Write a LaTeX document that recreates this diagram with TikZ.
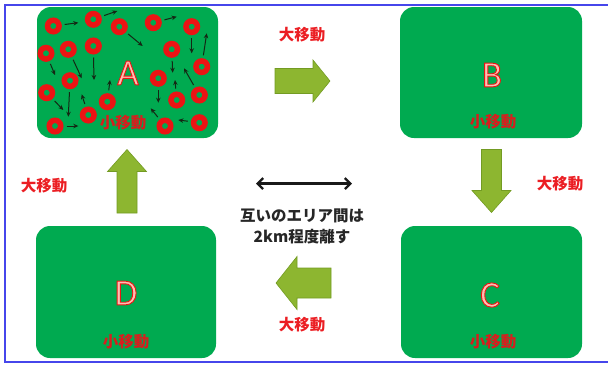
\documentclass[tikz,border=0pt]{standalone}
\usepackage{fontspec}
\usetikzlibrary{arrows.meta}
\newfontfamily\jp{Noto Sans CJK JP}
\newfontfamily\letterfont{Carlito}
\definecolor{boxgreen}{RGB}{0,170,80}
\definecolor{ringred}{RGB}{235,20,20}
\definecolor{labred}{RGB}{235,30,35}
\definecolor{inred}{RGB}{215,30,30}
\definecolor{arrowfill}{RGB}{141,182,48}
\definecolor{arrowedge}{RGB}{115,155,35}
\definecolor{framblue}{RGB}{70,70,235}
\definecolor{smallarrow}{RGB}{20,40,20}
\newcommand{\outl}[1]{\special{pdf:literal direct 1 0.75 0.7 rg 2 Tr 0.9 w}#1\special{pdf:literal direct 0 Tr}}
\begin{document}
\begin{tikzpicture}[x=1pt,y=-1pt,
  area/.style={fill=boxgreen,draw=none,rounded corners=14pt,inner sep=0pt},
  ring/.style={circle,draw=ringred,line width=5.5pt,minimum size=11.5pt,inner sep=0pt},
  mv/.style={-{Stealth[length=5pt,width=4.5pt]},draw=smallarrow,line width=1pt,shorten <=3pt},
  bigmove/.style={text=labred,font=\jp\bfseries\fontsize{15.5}{18}\selectfont,inner sep=0pt},
  smallmove/.style={text=inred,font=\jp\bfseries\fontsize{15.5}{18}\selectfont,inner sep=0pt},
  letter/.style={text=ringred,font=\letterfont\fontsize{37}{40}\selectfont,inner sep=0pt},
  blockarrow/.style={fill=arrowfill,draw=arrowedge,line width=0.6pt,line join=miter},
  note/.style={text=black!85,font=\jp\bfseries\fontsize{15.5}{18}\selectfont,inner sep=0pt},
  barbtip/.tip={Straight Barb[length=5.5pt,width=11pt,line width=2.3pt]}]
\useasboundingbox (0,0) rectangle (608,365);
\draw[framblue,line width=1.2pt] (608,5) -- (5,5) -- (5,362) -- (608,362);

% areas
\node[area,minimum width=181pt,minimum height=131pt] (A) at (127.5,72.5) {};
\node[area,minimum width=182pt,minimum height=131pt] (B) at (491,72.5) {};
\node[area,minimum width=180pt,minimum height=132pt] (D) at (126,292) {};
\node[area,minimum width=181pt,minimum height=132pt] (C) at (491.5,292) {};

% letters
\node[letter] (lA) at (128,73) {\outl{A}};
\node[letter] (lB) at (492,75) {\outl{B}};
\node[letter] (lD) at (126,293) {\outl{D}};
\node[letter] (lC) at (490,295) {\outl{C}};

% rings and small moves in A
\foreach \i/\cx/\cy/\ex/\ey in {
  1/53.3/26/78.3/22.7,
  2/93.3/19.3/117.3/11,
  3/119.3/26.7/142.7/46,
  4/153.3/22.7/176.7/16.7,
  5/191.7/26.7/191.7/53.3,
  6/46/53.3/55/75,
  7/68.3/49.3/81.7/78.3,
  8/93.3/46/94/80,
  9/171.7/49.3/172.7/72.7,
  10/201.7/66.7/206.7/33.3,
  11/70/80.7/68.3/116.7,
  12/158.3/78.3/158.3/102.7,
  13/46.7/92.7/63.3/110,
  14/107.3/101.7/110/80,
  15/176.7/100/175/80,
  16/199.3/95/184/68.3,
  17/88.3/115/81.7/94.3,
  18/55/126/78.3/126,
  19/165/126/150.7/108.3,
  20/199.3/122.7/178.3/120}
{
  \coordinate (e\i) at (\ex,\ey);
  \node[ring] (c\i) at (\cx,\cy) {};
  \draw[mv] (c\i) -- (e\i);
}

\node[smallmove] (sA) at (123,123) {小移動};
\node[smallmove] (sB) at (493,122) {小移動};
\node[smallmove] (sD) at (126,342) {小移動};
\node[smallmove] (sC) at (493,342) {小移動};

% big moves
\node[bigmove] (tAB) at (302,35) {大移動};
\node[bigmove] (tBC) at (560,184) {大移動};
\node[bigmove] (tCD) at (302,325) {大移動};
\node[bigmove] (tDA) at (44,186) {大移動};

% block arrows
\draw[blockarrow] (275,68.5) -- (313,68.5) -- (313,60) -- (330,81) -- (313,102) -- (313,93.5) -- (275,93.5) -- cycle;
\draw[blockarrow] (481.5,149.5) -- (501.5,149.5) -- (501.5,190.5) -- (511,190.5) -- (491.5,212.5) -- (472,190.5) -- (481.5,190.5) -- cycle;
\draw[blockarrow] (331,268) -- (297,268) -- (297,256.5) -- (276,283) -- (297,309.5) -- (297,298) -- (331,298) -- cycle;
\draw[blockarrow] (117,213) -- (117,171.5) -- (107.5,171.5) -- (127,149.5) -- (146.5,171.5) -- (137,171.5) -- (137,213) -- cycle;

% distance note
\coordinate (dl) at (256,183.5);
\coordinate (dr) at (352,183.5);
\draw[barbtip-barbtip,line width=2.3pt,black!90] (dl) -- (dr);
\node[note] (n1) at (302,215.5) {互いのエリア間は};
\node[note] (n2) at (302,237) {2km程度離す};
\end{tikzpicture}
\end{document}
